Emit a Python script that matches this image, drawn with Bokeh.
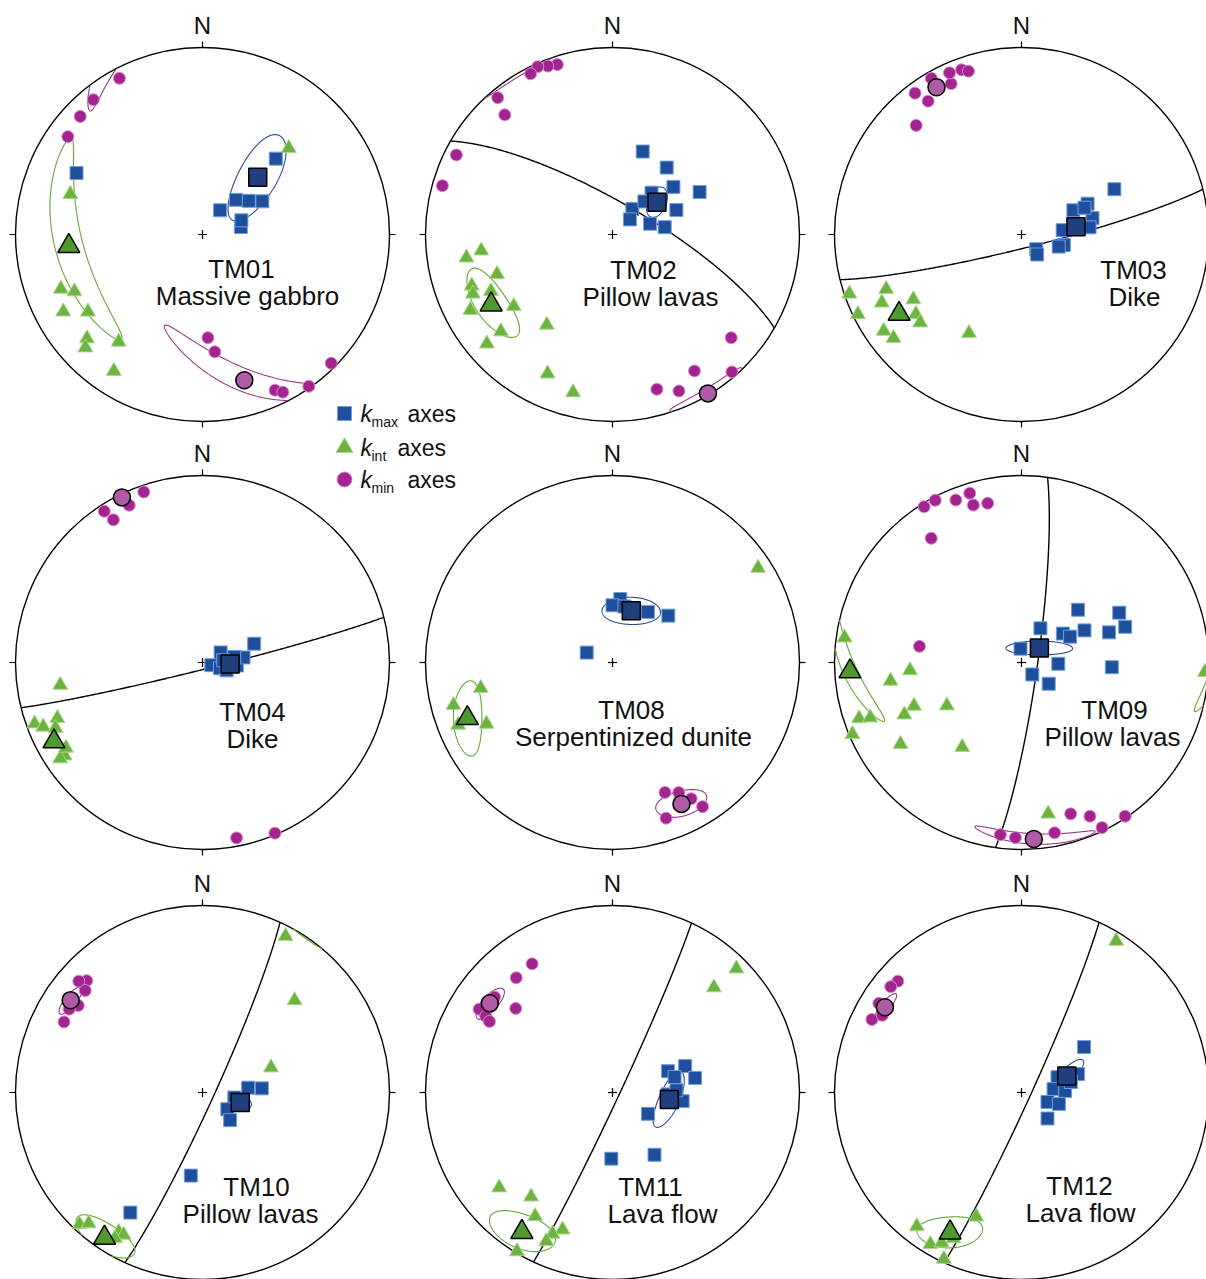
import numpy as np
from bokeh.plotting import figure
from bokeh.models import Range1d
from bokeh.core.properties import value
from bokeh.embed import file_html
from bokeh.resources import INLINE

# ---------------- data: trend / plunge (degrees) of AMS principal axes ----------------
# TM01 Massive gabbro
tm01_kmax_trend = [296, 44, 44, 54, 61, 36, 79, 70]
tm01_kmax_plunge = [26, 43, 69, 65, 60, 77, 73, 72]
tm01_kint_trend = [287, 249, 246, 241, 236, 228, 226, 218, 213, 45]
tm01_kint_plunge = [27, 20, 26, 16, 27, 18, 14, 28, 14, 35]
tm01_kmin_trend = [332, 321, 314, 306, 177, 174, 155, 153, 145, 135]
tm01_kmin_plunge = [6, 8, 10, 12, 44, 37, 9, 6, 1, 3]
tm01_mean_trend = [44, 265, 164]
tm01_mean_plunge = [55, 29, 20]
tm01_ellipses = [[22, 8, 13], [41, 7, 103], [41, 5, 41]]   # semi-axes e1, e2, azimuth
tm01_plane = None

# TM02 Pillow lavas
tm02_kmax_trend = [20, 39, 52, 64, 43, 38, 44, 69, 49, 74, 82]
tm02_kmax_plunge = [51, 52, 56, 47, 65, 76, 70, 60, 80, 73, 67]
tm02_kint_trend = [261, 263, 251, 250, 247, 245, 242, 234, 229, 229, 216, 205, 194]
tm02_kint_plunge = [22, 30, 35, 21, 20, 29, 15, 35, 22, 12, 40, 19, 14]
tm02_kmin_trend = [342, 339, 336, 333, 320, 318, 297, 286, 131, 139, 149, 157, 164]
tm02_kmin_plunge = [5, 4, 2, 4, 5, 15, 7, 6, 17, 3, 16, 10, 15]
tm02_mean_trend = [54, 240, 149]
tm02_mean_plunge = [66, 26, 1]
tm02_ellipses = [[7, 4, 30], [15, 8, 97], [13, 3, 90]]
tm02_plane = [30, 76]   # dip direction, dip

# TM03 Dike
tm03_kmax_trend = [64, 65, 65, 77, 84, 104, 108, 135, 142, 84, 67]
tm03_kmax_plunge = [44, 58, 65, 58, 72, 71, 73, 81, 79, 60, 60]
tm03_kint_trend = [251, 244, 248, 244, 239, 233, 229, 235, 231, 208]
tm03_kint_plunge = [3, 3, 23, 18, 33, 30, 29, 11, 13, 40]
tm03_kmin_trend = [316, 323, 325, 330, 335, 336, 340, 342]
tm03_kmin_plunge = [20, 6, 14, 4, 12, 6, 7, 9]
tm03_mean_trend = [82, 237, 330]
tm03_mean_plunge = [66, 23, 10]
tm03_ellipses = [None, None, None]
tm03_plane = [166, 84]

# TM04 Dike
tm04_kmax_trend = [70, 61, 107, 108, 95, 83, 108, 80, 84]
tm04_kmax_plunge = [66, 81, 86, 82, 75, 72, 79, 76, 81]
tm04_kint_trend = [261, 250, 248, 249, 246, 236, 236, 238]
tm04_kint_plunge = [24, 5, 9, 18, 15, 12, 9, 15]
tm04_kmin_trend = [341, 327, 328, 335, 169, 157]
tm04_kmin_plunge = [4, 4, 11, 8, 5, 1]
tm04_mean_trend = [93, 242, 334]
tm04_mean_plunge = [78, 11, 2]
tm04_ellipses = [[5, 3, 70], None, None]
tm04_plane = [166, 87]

# TM08 Serpentinized dunite
tm08_kmax_trend = [291, 7, 0, 35, 50, 12]
tm08_kmax_plunge = [78, 62, 65, 63, 58, 65]
tm08_kint_trend = [57, 259, 255, 244, 248]
tm08_kint_plunge = [8, 29, 13, 26, 12]
tm08_kmin_trend = [158, 153, 150, 148, 161]
tm08_kmin_plunge = [26, 23, 17, 10, 13]
tm08_mean_trend = [20, 249, 154]
tm08_mean_plunge = [66, 18, 17]
tm08_ellipses = [[12.5, 6, 110], [14.5, 7, 55], [9.5, 6.5, 64]]
tm08_plane = None

# TM09 Pillow lavas
tm09_kmax_trend = [356, 29, 55, 62, 63, 47, 71, 63, 71, 93, 92, 138, 128]
tm09_kmax_plunge = [84, 73, 68, 66, 59, 56, 49, 41, 41, 50, 74, 83, 75]
tm09_kint_trend = [278, 262, 266, 251, 250, 247, 246, 248, 240, 236, 215, 170, 93]
tm09_kint_plunge = [5, 30, 40, 9, 15, 2, 32, 38, 52, 23, 44, 19, 2]
tm09_kmin_trend = [328, 332, 338, 343, 343, 348, 324, 279, 162, 156, 154, 146, 169, 182, 187]
tm09_kmin_plunge = [2, 2, 7, 6, 13, 14, 19, 44, 16, 11, 2, 1, 8, 7, 8]
tm09_mean_trend = [51, 267, 176]
tm09_mean_plunge = [80, 9, 6]
tm09_ellipses = [[14.5, 3, 141], [23, 3.5, -55], [20, 3, 78]]
tm09_plane = [98, 83]

# TM10 Pillow lavas
tm10_kmax_trend = [84, 86, 99, 124, 135, 188, 211]
tm10_kmax_plunge = [70, 64, 76, 77, 73, 53, 26]
tm10_kint_trend = [28, 45, 70, 223, 221, 211, 209, 211]
tm10_kint_plunge = [6, 31, 58, 4, 8, 14, 14, 10]
tm10_kmin_trend = [314, 312, 311, 305, 302, 297]
tm10_kmin_plunge = [15, 12, 18, 20, 17, 18]
tm10_mean_trend = [105, 214, 305]
tm10_mean_plunge = [73, 7, 15]
tm10_ellipses = [[5, 3, 0], [11, 8, 95], [6, 3, 80]]
tm10_plane = [114.5, 85]

# TM11 Lava flow
tm11_kmax_trend = [70, 69, 76, 80, 92, 97, 88, 121, 181, 146]
tm11_kmax_plunge = [56, 64, 62, 53, 66, 59, 62, 72, 61, 57]
tm11_kint_trend = [45, 44, 230, 218, 212, 200, 203, 204, 211]
tm11_kint_plunge = [7, 23, 22, 30, 23, 23, 19, 14, 1]
tm11_kmin_trend = [328, 320, 311, 302, 301, 300, 309]
tm11_kmin_plunge = [20, 21, 32, 17, 22, 25, 20]
tm11_mean_trend = [97, 213, 306]
tm11_mean_plunge = [65, 12, 20]
tm11_ellipses = [[13, 4.5, 72], [12.5, 9, -57], [7, 4, 80]]
tm11_plane = [115, 87]

# TM12 Lava flow
tm12_kmax_trend = [54, 72, 67, 84, 88, 110, 107, 135, 78]
tm12_kmax_plunge = [56, 64, 73, 76, 71, 78, 73, 74, 68]
tm12_kint_trend = [32, 218, 200, 211, 208, 205, 205]
tm12_kint_plunge = [5, 10, 30, 6, 10, 2, 15]
tm12_kmin_trend = [312, 309, 302, 296, 299]
tm12_kmin_plunge = [12, 11, 11, 12, 16]
tm12_mean_trend = [70, 207, 302]
tm12_mean_plunge = [69, 17, 15]
tm12_ellipses = [[10, 3, 23], [13.7, 7, -40], [6, 2.5, 80]]
tm12_plane = [114.5, 86]

site_names = ["TM01", "TM02", "TM03", "TM04", "TM08", "TM09", "TM10", "TM11", "TM12"]
site_rocks = ["Massive gabbro", "Pillow lavas", "Dike", "Dike", "Serpentinized dunite",
              "Pillow lavas", "Pillow lavas", "Lava flow", "Lava flow"]
legend_labels = ["max", "int", "min"]

g = globals()
sites = []
for nm in site_names:
    k = nm.lower()
    sites.append(dict(
        axes=[(g[k + "_kmax_trend"], g[k + "_kmax_plunge"]),
              (g[k + "_kint_trend"], g[k + "_kint_plunge"]),
              (g[k + "_kmin_trend"], g[k + "_kmin_plunge"])],
        mean=(g[k + "_mean_trend"], g[k + "_mean_plunge"]),
        ell=g[k + "_ellipses"], plane=g[k + "_plane"]))

# ---------------- layout (page pixel coordinates) ----------------
W, H = 1206, 1279
R = 187.0
centers = [(202, 234), (612, 234), (1021, 234),
           (202, 662), (612, 662), (1021, 662),
           (202, 1092), (612, 1092), (1021, 1092)]
label_pos = [((241, 278), (247, 305)), ((643, 279), (650, 306)), ((1133, 279), (1134, 306)),
             ((252, 721), (252, 748)), ((631, 719), (633, 746)), ((1114, 719), (1112, 746)),
             ((256, 1196), (250, 1223)), ((650, 1196), (662, 1223)), ((1079, 1195), (1080, 1222))]
TXT_SHIFT = 0.38   # renderer baseline correction (fraction of font size)

FONT = value("Liberation Sans")
C_MAX, E_MAX, C_MAX_M = "#1f4e9c", "#6e9fdc", "#203f7c"
C_INT, E_INT, C_INT_M = "#6cb33f", "#a9d98a", "#4f9a2e"
C_MIN, E_MIN, C_MIN_M = "#a3238f", "#d887cb", "#b05ba6"
ELL_COL = ["#2b4c98", "#62a833", "#9a3585"]


def to_ned(tr, pl):
    tr = np.radians(np.asarray(tr, float))
    pl = np.radians(np.asarray(pl, float))
    return np.array([np.cos(pl) * np.cos(tr), np.cos(pl) * np.sin(tr), np.sin(pl)])


def project(v, cx, cy):
    n, e, d = v
    h = np.hypot(n, e)
    h = np.where(h < 1e-12, 1.0, h)
    r = R * np.sqrt(np.clip(1 - d, 0, 1))
    return cx + r * e / h, -cy + r * n / h


def cone(tr, pl, e1, e2, phi, cx, cy):
    t, q = np.radians(tr), np.radians(pl)
    m = to_ned(tr, pl)
    udip = np.array([-np.sin(q) * np.cos(t), -np.sin(q) * np.sin(t), np.cos(q)])
    uh = np.array([-np.sin(t), np.cos(t), 0.0])
    f = np.radians(phi)
    a1 = np.cos(f) * udip + np.sin(f) * uh
    a2 = -np.sin(f) * udip + np.cos(f) * uh
    s = np.linspace(0, 2 * np.pi, 721)
    v = (m[:, None] + np.tan(np.radians(e1)) * np.cos(s) * a1[:, None]
         + np.tan(np.radians(e2)) * np.sin(s) * a2[:, None])
    v = v / np.linalg.norm(v, axis=0)
    up = v[2] < 0
    v[:, up] *= -1
    x, y = project(v, cx, cy)
    segs, start = [], 0
    for i in range(1, len(s)):
        if up[i] != up[i - 1]:
            segs.append((x[start:i], y[start:i]))
            start = i
    segs.append((x[start:], y[start:]))
    if len(segs) > 1 and up[0] == up[-1]:
        segs[0] = (np.concatenate([segs[-1][0], segs[0][0]]), np.concatenate([segs[-1][1], segs[0][1]]))
        segs.pop()
    return segs


def great_circle(dd, dip, cx, cy):
    a = np.linspace(0, np.pi, 361)
    s = to_ned(dd - 90, 0)
    dv = to_ned(dd, dip)
    v = np.cos(a) * s[:, None] + np.sin(a) * dv[:, None]
    return project(v, cx, cy)


def put_text(x, y, txt, size, **kw):
    p.text(x=list(x), y=[-(yy - TXT_SHIFT * size) for yy in y], text=list(txt), text_font=FONT,
           text_font_size=f"{size}px", text_baseline="alphabetic", text_color="#111111", **kw)


p = figure(width=W, height=H, x_range=Range1d(0, W), y_range=Range1d(-H, 0),
           output_backend="svg", toolbar_location=None, min_border=0)
p.outline_line_color = None
p.axis.visible = False
p.grid.visible = False
p.background_fill_color = "white"
p.border_fill_color = "white"

for i, site in enumerate(sites):
    cx, cy = centers[i]
    # primitive circle, ticks, centre cross
    p.circle(x=[cx], y=[-cy], radius=R, fill_color=None, line_color="black", line_width=1.4)
    p.segment(x0=[cx, cx, cx - R, cx + R], y0=[-cy + R, -cy - R, -cy, -cy],
              x1=[cx, cx, cx - R - 6, cx + R + 6], y1=[-cy + R + 6, -cy - R - 6, -cy, -cy],
              line_color="black", line_width=1.2)
    p.segment(x0=[cx - 4.5, cx], y0=[-cy, -cy - 4.5], x1=[cx + 4.5, cx], y1=[-cy, -cy + 4.5],
              line_color="black", line_width=1.2)
    put_text([cx], [cy - 200], ["N"], 24, text_align="center")
    # great circle
    if site["plane"] is not None:
        gx, gy = great_circle(site["plane"][0], site["plane"][1], cx, cy)
        p.line(gx, gy, line_color="black", line_width=1.4)
    # confidence ellipses
    for j in range(3):
        e = site["ell"][j]
        if e is None:
            continue
        segs = cone(site["mean"][0][j], site["mean"][1][j], e[0], e[1], e[2], cx, cy)
        p.multi_line([list(s[0]) for s in segs], [list(s[1]) for s in segs],
                     line_color=ELL_COL[j], line_width=1.1)
    # individual axes
    styles = [("circle", 12, C_MIN, E_MIN, 2), ("triangle", 15, C_INT, E_INT, 1),
              ("square", 13, C_MAX, E_MAX, 0)]
    for marker, size, fc, lc, j in styles:
        tr, pl = site["axes"][j]
        x, y = project(to_ned(tr, pl), cx, cy)
        p.scatter(x, y, marker=marker, size=size, fill_color=fc, line_color=lc, line_width=1)
    # mean axes
    mstyles = [("circle", 17, C_MIN_M, 2), ("triangle", 22, C_INT_M, 1), ("square", 18, C_MAX_M, 0)]
    for marker, size, fc, j in mstyles:
        x, y = project(to_ned(site["mean"][0][j], site["mean"][1][j]), cx, cy)
        p.scatter(np.atleast_1d(x), np.atleast_1d(y), marker=marker, size=size, fill_color=fc,
                  line_color="black", line_width=1.5)
    # labels
    (x1, y1), (x2, y2) = label_pos[i]
    put_text([x1, x2], [y1, y2], [site_names[i], site_rocks[i]], 26, text_align="center")

# ---------------- legend ----------------
leg_y = [413, 447, 479]
leg_markers = [("square", 14, C_MAX, E_MAX), ("triangle", 17, C_INT, E_INT), ("circle", 15, C_MIN, E_MIN)]
axes_x = [407, 397, 407]
for k in range(3):
    mk, sz, fc, lc = leg_markers[k]
    yb = leg_y[k] + 9
    p.scatter([344], [-leg_y[k]], marker=mk, size=sz, fill_color=fc, line_color=lc, line_width=1)
    put_text([360], [yb], ["k"], 23, text_font_style="italic")
    put_text([371], [yb + 5], [legend_labels[k]], 14)
    put_text([axes_x[k]], [yb], ["axes"], 23)

open("out.html", "w").write(file_html(p, INLINE))
